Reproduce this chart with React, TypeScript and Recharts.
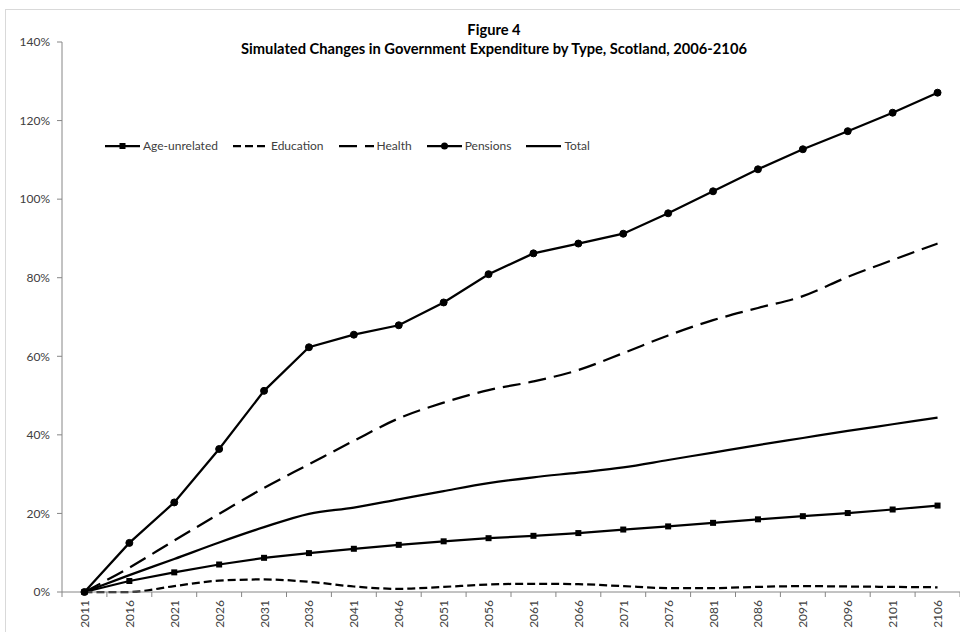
import { Line, LineChart, XAxis, YAxis } from "recharts";

const years = [
  "2011", "2016", "2021", "2026", "2031", "2036", "2041", "2046", "2051", "2056",
  "2061", "2066", "2071", "2076", "2081", "2086", "2091", "2096", "2101", "2106",
];
const ageUnrelated = [0, 2.8, 5.0, 7.0, 8.7, 9.9, 11.0, 12.0, 12.9, 13.7, 14.3, 15.0, 15.9, 16.7, 17.6, 18.5, 19.3, 20.1, 21.0, 22.0];
const education = [0, 0.0, 1.5, 2.9, 3.2, 2.6, 1.4, 0.8, 1.3, 1.9, 2.1, 2.0, 1.5, 1.0, 1.0, 1.3, 1.5, 1.4, 1.3, 1.2];
const health = [0, 6.2, 13.1, 19.9, 26.5, 32.5, 38.5, 44.2, 48.2, 51.4, 53.6, 56.5, 60.8, 65.3, 69.2, 72.3, 75.3, 80.2, 84.5, 88.7];
const pensions = [0, 12.5, 22.8, 36.4, 51.2, 62.3, 65.5, 67.9, 73.7, 80.9, 86.2, 88.7, 91.2, 96.4, 102.0, 107.6, 112.7, 117.3, 122.0, 127.1];
const total = [0, 4.3, 8.4, 12.6, 16.5, 19.9, 21.5, 23.6, 25.7, 27.7, 29.2, 30.4, 31.7, 33.6, 35.5, 37.4, 39.2, 41.0, 42.7, 44.4];
const yTicks = [0, 20, 40, 60, 80, 100, 120, 140];

const TITLE = "Figure 4";
const SUBTITLE = "Simulated Changes in Government Expenditure by Type, Scotland, 2006-2106";

const FONT = "Lato, 'Open Sans', sans-serif";
const AXIS = "#868686";
const TEXT = "#404040";

const W = 960;
const H = 632;
const PLOT_LEFT = 62;
const BAND = (W - PLOT_LEFT) / years.length;

const data = years.map((year, i) => ({
  year,
  ageUnrelated: ageUnrelated[i],
  education: education[i],
  health: health[i],
  pensions: pensions[i],
  total: total[i],
}));

const legendItems = [
  { name: "Age-unrelated", dash: undefined, marker: "square" },
  { name: "Education", dash: "8 4", marker: null },
  { name: "Health", dash: "18 8", marker: null },
  { name: "Pensions", dash: undefined, marker: "circle" },
  { name: "Total", dash: undefined, marker: null },
];

function SquareDot(props: { cx?: number; cy?: number; index?: number }) {
  const { cx, cy } = props;
  if (cx == null || cy == null) return null;
  return <rect key={props.index} x={cx - 3} y={cy - 3} width={6} height={6} fill="#000" />;
}

function XTick(props: { x?: number; y?: number; payload?: { value: string }; index?: number }) {
  const x = props.x ?? 0;
  const y = props.y ?? 0;
  const ty = y + 8;
  const last = props.index === years.length - 1;
  return (
    <g>
      <line x1={x - BAND / 2} x2={x - BAND / 2} y1={y} y2={y + 5} stroke={AXIS} />
      {last && <line x1={x + BAND / 2} x2={x + BAND / 2} y1={y} y2={y + 5} stroke={AXIS} />}
      <text
        x={x}
        y={ty}
        transform={`rotate(-90, ${x}, ${ty})`}
        textAnchor="end"
        dominantBaseline="central"
        fill={TEXT}
        fontSize={12}
        fontFamily={FONT}
      >
        {props.payload?.value}
      </text>
    </g>
  );
}

function ChartLegend() {
  return (
    <div style={{ display: "flex", alignItems: "center", gap: 15, fontFamily: FONT, fontSize: 12, color: TEXT }}>
      {legendItems.map((it) => (
        <div key={it.name} style={{ display: "flex", alignItems: "center", gap: 3 }}>
          <svg width={35} height={10}>
            <line x1={0} x2={35} y1={5} y2={5} stroke="#000" strokeWidth={2.25} strokeDasharray={it.dash} />
            {it.marker === "square" && <rect x={14.5} y={2} width={6} height={6} fill="#000" />}
            {it.marker === "circle" && <circle cx={17.5} cy={5} r={3.5} fill="#000" />}
          </svg>
          <span>{it.name}</span>
        </div>
      ))}
    </div>
  );
}

export default function App() {
  return (
    <div style={{ position: "absolute", left: 0, top: 0, width: W, height: H, background: "#fff", overflow: "hidden" }}>
      <div
        style={{
          position: "absolute",
          left: 5,
          top: 9,
          width: W,
          height: H,
          borderTop: "1px solid #d9d9d9",
          borderLeft: "1px solid #d9d9d9",
        }}
      />
      <div
        style={{
          position: "absolute",
          left: 0,
          top: 20,
          width: 988,
          textAlign: "center",
          fontFamily: FONT,
          fontWeight: 700,
          fontSize: 14.7,
          lineHeight: "19px",
          color: "#000",
        }}
      >
        <div>{TITLE}</div>
        <div>{SUBTITLE}</div>
      </div>
      <div style={{ position: "absolute", left: 0, top: 0 }}>
        <LineChart width={W} height={H} data={data} margin={{ top: 42, right: 0, bottom: 0, left: 0 }}>
          <XAxis
            dataKey="year"
            scale="band"
            height={40}
            interval={0}
            stroke={AXIS}
            tickLine={false}
            tickSize={0}
            tickMargin={0}
            tick={<XTick />}
          />
          <YAxis
            width={PLOT_LEFT}
            domain={[0, 140]}
            ticks={yTicks}
            interval={0}
            stroke={AXIS}
            tickSize={5}
            tickMargin={7}
            tickFormatter={(v: number) => `${v}%`}
            tick={{ fill: TEXT, fontSize: 12, fontFamily: FONT }}
          />
          <Line dataKey="education" name="Education" type="monotone" stroke="#000" strokeWidth={2.25} strokeDasharray="8 4" dot={false} isAnimationActive={false} />
          <Line dataKey="health" name="Health" type="monotone" stroke="#000" strokeWidth={2.25} strokeDasharray="18 8" dot={false} isAnimationActive={false} />
          <Line dataKey="total" name="Total" type="monotone" stroke="#000" strokeWidth={2.25} dot={false} isAnimationActive={false} />
          <Line dataKey="ageUnrelated" name="Age-unrelated" type="linear" stroke="#000" strokeWidth={2.25} dot={<SquareDot />} isAnimationActive={false} />
          <Line dataKey="pensions" name="Pensions" type="linear" stroke="#000" strokeWidth={2.25} dot={{ r: 3.5, fill: "#000", stroke: "#000", strokeWidth: 1 }} isAnimationActive={false} />
        </LineChart>
      </div>
      <div style={{ position: "absolute", left: 105, top: 138 }}>
        <ChartLegend />
      </div>
    </div>
  );
}
